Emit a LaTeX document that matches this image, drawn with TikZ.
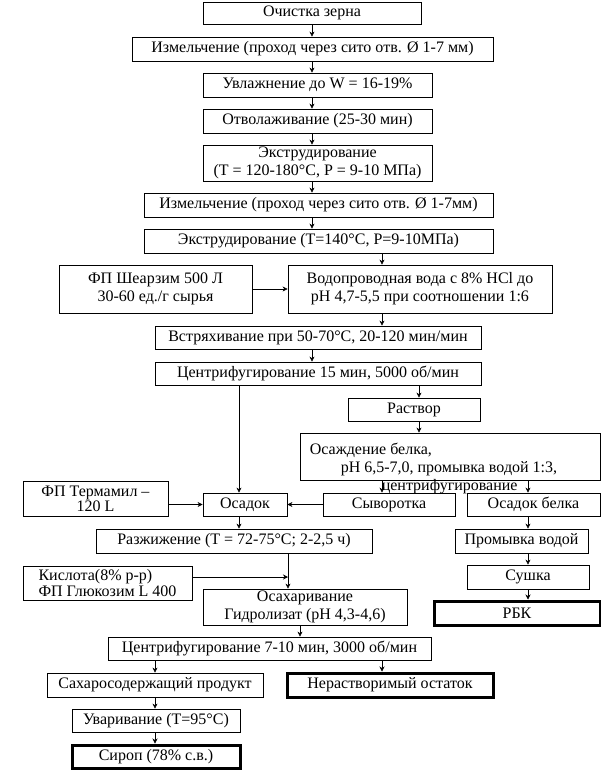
\documentclass[tikz,border=0pt]{standalone}
\usepackage{fontspec}
\setmainfont{Liberation Serif}
\usetikzlibrary{
  arrows.meta,
  positioning,
  calc
}
\definecolor{fcLine}{HTML}{000000}
\tikzset{
  fcnode/.style={
    draw=fcLine, line width=0.8pt, inner sep=1pt,
    font=\fontsize{16}{18}\selectfont, align=center
  },
  fcbox/.style={fcnode},
  fcfinal/.style={fcnode, line width=3pt},
  fctight/.style={fcnode, font=\fontsize{16}{14}\selectfont},
  fctext/.style={inner sep=0pt, font=\fontsize{16}{18}\selectfont, align=left},
  fcflow/.style={-{Stealth[length=5pt, width=5pt]}, line width=0.6pt, fcLine},
  fcline/.style={line width=0.6pt, fcLine}
}

\begin{document}
\begin{tikzpicture}[x=1pt, y=-1pt]
  \useasboundingbox (0,0) rectangle (601,782);
  % grain line
  \node[fcbox, minimum width=218pt, minimum height=22pt] (clean) at (312,13) {Очистка зерна};
  \node[fcbox, minimum width=361pt, minimum height=24pt] (grindA) at (312.5,49) {Измельчение (проход через сито отв. Ø 1-7 мм)};
  \node[fcbox, minimum width=229pt, minimum height=24pt] (moist) at (317.5,85) {Увлажнение до W = 16-19\%};
  \node[fcbox, minimum width=229pt, minimum height=24pt] (temper) at (317.5,121) {Отволаживание (25-30 мин)};
  \node[fcbox, minimum width=229pt, minimum height=36pt] (extrudeA) at (317.5,163) {Экструдирование\\(T = 120-180°C, P = 9-10 МПа)};
  \node[fcbox, minimum width=349pt, minimum height=24pt] (grindB) at (318.5,205) {Измельчение (проход через сито отв. Ø 1-7мм)};
  \node[fcbox, minimum width=349pt, minimum height=24pt] (extrudeB) at (318.5,241) {Экструдирование (T=140°C, P=9-10МПа)};
  \node[fcbox, minimum width=193pt, minimum height=48pt] (shearzyme) at (155.5,289) {ФП Шеарзим 500 Л\\30-60 ед./г сырья};
  \node[fcbox, minimum width=264pt, minimum height=48pt] (water) at (420,289) {Водопроводная вода с 8\% HCl до\\pH 4,7-5,5 при соотношении 1:6};
  \node[fcbox, minimum width=326pt, minimum height=23pt] (shake) at (318,337.5) {Встряхивание  при 50-70°C, 20-120 мин/мин};
  \node[fcbox, minimum width=326pt, minimum height=23pt] (centrifA) at (318,373.5) {Центрифугирование 15 мин, 5000 об/мин};
  % protein branch
  \node[fcbox, minimum width=132pt, minimum height=23pt] (solution) at (414,409.5) {Раствор};
  \node[fcbox, minimum width=300pt, minimum height=47pt] (precip) at (450,456.5) {};
  \node[fctext, anchor=north west] (preciptext) at ([xshift=10pt, yshift=-10pt]precip.north west)
    {Осаждение белка,\\\hspace*{31pt}pH 6,5-7,0, промывка водой 1:3,\\\hspace*{72pt}центрифугирование};
  \node[fctight, minimum width=145pt, minimum height=35pt] (termamyl) at (95.5,498.5) {ФП Термамил –\\120 L};
  \node[fcbox, minimum width=84pt, minimum height=23pt] (sediment) at (245,504.5) {Осадок};
  \node[fcbox, minimum width=132pt, minimum height=23pt] (whey) at (389,504.5) {Сыворотка};
  \node[fcbox, minimum width=133pt, minimum height=23pt] (protsed) at (533.5,504.5) {Осадок белка};
  \node[fcbox, minimum width=133pt, minimum height=24pt] (wash) at (521.5,541) {Промывка водой};
  \node[fcbox, minimum width=122pt, minimum height=24pt] (drying) at (528,577) {Сушка};
  \node[fcfinal, minimum width=166pt, minimum height=24pt] (rbk) at (517,613) {РБК};
  % starch branch
  \node[fcbox, minimum width=276pt, minimum height=24pt] (liquef) at (234,541) {Разжижение (T = 72-75°C; 2-2,5 ч)};
  \node[fctight, align=left, minimum width=169pt, minimum height=34pt] (acid) at (107.5,583) {Кислота(8\% р-р)\\ФП Глюкозим L 400};
  \node[fcbox, minimum width=204pt, minimum height=36pt] (saccharif) at (305,607) {Осахаривание\\Гидролизат (pH 4,3-4,6)};
  \node[fcbox, minimum width=323pt, minimum height=23pt] (centrifB) at (269.5,648.5) {Центрифугирование 7-10 мин, 3000 об/мин};
  \node[fcbox, minimum width=216pt, minimum height=24pt] (sugarprod) at (155,685) {Сахаросодержащий продукт};
  \node[fcfinal, minimum width=206pt, minimum height=24pt] (insoluble) at (390,685) {Нерастворимый остаток};
  \node[fcbox, minimum width=168pt, minimum height=23pt] (boil) at (156,720.5) {Уваривание (T=95°C)};
  \node[fcfinal, minimum width=168pt, minimum height=23pt] (syrup) at (156,756.5) {Сироп (78\% с.в.)};

  \coordinate (colMain) at (312,0);
  \coordinate (colWater) at (382,0);
  \coordinate (colSol) at (419,0);
  \coordinate (colSed) at (239,0);
  \coordinate (colProt) at (528,0);
  \coordinate (colSacch) at (288,0);
  \coordinate (colCentr) at (300,0);
  \coordinate (colSugar) at (155,0);
  \coordinate (acidjoin) at (288,577);

  \draw[fcflow] (clean.south -| colMain) -- (grindA.north -| colMain);
  \draw[fcflow] (grindA.south -| colMain) -- (moist.north -| colMain);
  \draw[fcflow] (moist.south -| colMain) -- (temper.north -| colMain);
  \draw[fcflow] (temper.south -| colMain) -- (extrudeA.north -| colMain);
  \draw[fcflow] (extrudeA.south -| colMain) -- (grindB.north -| colMain);
  \draw[fcflow] (grindB.south -| colMain) -- (extrudeB.north -| colMain);
  \draw[fcflow] (extrudeB.south -| colWater) -- (water.north -| colWater);
  \draw[fcflow] (shearzyme.east) -- (water.west);
  \draw[fcflow] (water.south -| colWater) -- (shake.north -| colWater);
  \draw[fcflow] (shake.south -| colMain) -- (centrifA.north -| colMain);
  \draw[fcflow] (centrifA.south -| colSol) -- (solution.north -| colSol);
  \draw[fcflow] (centrifA.south -| colSed) -- (sediment.north -| colSed);
  \draw[fcflow] (solution.south -| colSol) -- (precip.north -| colSol);
  \draw[fcflow] (precip.south -| colWater) -- (whey.north -| colWater);
  \draw[fcflow] (precip.south -| colProt) -- (protsed.north -| colProt);
  \draw[fcflow] (termamyl.east |- sediment.west) -- (sediment.west);
  \draw[fcflow] (whey.west) -- (sediment.east);
  \draw[fcflow] (sediment.south -| colSed) -- (liquef.north -| colSed);
  \draw[fcflow] (protsed.south -| colProt) -- (wash.north -| colProt);
  \draw[fcflow] (wash.south -| colProt) -- (drying.north -| colProt);
  \draw[fcflow] (drying.south -| colProt) -- (rbk.north -| colProt);
  \draw[fcflow] (liquef.south -| colSacch) -- (saccharif.north -| colSacch);
  \draw[fcflow] (acid.east |- acidjoin) -- (acidjoin);
  \draw[fcflow] (saccharif.south -| colCentr) -- (centrifB.north -| colCentr);
  \draw[fcflow] (centrifB.south -| colSugar) -- (sugarprod.north -| colSugar);
  \draw[fcflow] (centrifB.south -| colWater) -- (insoluble.north -| colWater);
  \draw[fcflow] (sugarprod.south -| colSugar) -- (boil.north -| colSugar);
  \draw[fcflow] (boil.south -| colSugar) -- (syrup.north -| colSugar);
\end{tikzpicture}
\end{document}
